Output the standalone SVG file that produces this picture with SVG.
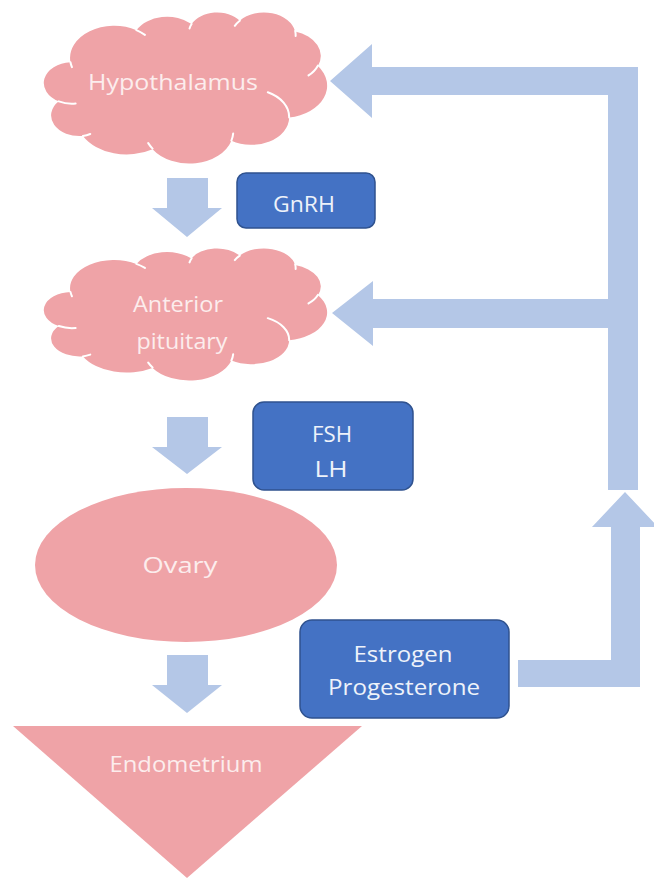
<svg xmlns="http://www.w3.org/2000/svg" width="654" height="879" viewBox="0 0 654 879">
<style>
.pink{fill:#EFA3A7;}
.inner{fill:none;stroke:#FFFFFF;stroke-width:2;stroke-linecap:round;}
.box{fill:#4472C4;stroke:#2F528F;stroke-width:1.5;}
.arrow{fill:#B4C7E7;}
.t{font-family:"Open Sans","Liberation Sans",sans-serif;font-size:22px;text-anchor:middle;}
.tp{fill:#FCEDED;}
.tb{fill:#EEF2FA;}
</style>
<defs>
<path id="cloudShape" d="M 39.00 143.70 A 67.53 91.90 0 0 1 140.05 52.02 A 53.33 72.67 0 0 1 224.56 34.32 A 43.65 59.45 0 0 1 298.32 24.79 A 48.57 65.95 0 0 1 383.17 55.75 A 53.33 72.73 0 0 1 418.17 154.59 A 67.75 92.20 0 0 1 374.03 302.02 A 57.85 78.67 0 0 1 285.55 368.12 A 67.52 92.15 0 0 1 164.80 392.64 A 77.20 105.43 0 0 1 58.03 354.69 A 43.60 59.18 0 0 1 21.12 255.47 A 43.45 59.45 0 0 1 39.00 143.70 Z"/>
</defs>

<g id="connectors">
<polygon class="arrow" points="167,178 208,178 208,208 222,208 187,237 152,208 167,208"/>
<polygon class="arrow" points="167,417 208,417 208,447 222,447 187,474 152,447 167,447"/>
<polygon class="arrow" points="167,655 208,655 208,685 222,685 187,713 152,685 167,685"/>
<polygon class="arrow" points="330,81 372,44 372,67 638,67 638,490 608,490 608,95 372,95 372,118"/>
<polygon class="arrow" points="332,313 373,281 373,299 608,299 608,328 373,328 373,346"/>
<polygon class="arrow" points="518,660 611,660 611,527 592,527 625,492 658,527 640,527 640,687 518,687"/>
</g>

<g id="hypothalamus">
<use href="#cloudShape" class="pink" transform="translate(45,12) scale(0.6528,0.3495)"/>
<path class="inner" d="M 75.64 103.49 A 28.36 20.78 0 0 1 58.79 101.31 M 90.23 133.97 A 28.46 20.68 0 0 1 82.88 135.98 M 152.57 148.62 A 44.08 32.21 0 0 1 148.22 143.15 M 233.18 133.46 A 44.08 32.21 0 0 1 231.40 140.66 M 267.79 92.22 A 37.76 27.50 0 0 1 289.16 117.56 M 317.86 65.66 A 34.81 25.42 0 0 1 308.53 75.38 M 295.18 30.96 A 31.71 23.05 0 0 1 295.63 36.02 M 234.82 25.81 A 31.71 23.05 0 0 1 239.74 20.66 M 189.53 28.50 A 28.49 20.78 0 0 1 191.59 24.00 M 136.39 30.15 A 44.08 32.12 0 0 1 144.90 34.89 M 71.94 67.18 A 44.08 32.12 0 0 1 70.46 62.22"/>
<text class="t tp" x="173" y="90" textLength="170" lengthAdjust="spacingAndGlyphs">Hypothalamus</text>
</g>

<g id="anterior-pituitary">
<use href="#cloudShape" class="pink" transform="translate(45,248) scale(0.6528,0.3056)"/>
<path class="inner" d="M 75.64 328.00 A 28.36 18.17 0 0 1 58.79 326.07 M 90.23 354.65 A 28.46 18.09 0 0 1 82.88 356.39 M 152.57 367.46 A 44.08 28.16 0 0 1 148.22 362.65 M 233.18 354.20 A 44.08 28.16 0 0 1 231.40 360.50 M 267.79 318.15 A 37.76 24.04 0 0 1 289.16 340.30 M 317.86 294.92 A 34.81 22.23 0 0 1 308.53 303.42 M 295.18 264.58 A 31.71 20.15 0 0 1 295.63 269.00 M 234.82 260.08 A 31.71 20.15 0 0 1 239.74 255.58 M 189.53 262.42 A 28.49 18.17 0 0 1 191.59 258.49 M 136.39 263.87 A 44.08 28.08 0 0 1 144.90 267.97 M 71.94 296.25 A 44.08 28.08 0 0 1 70.46 291.91"/>
<text class="t tp" x="178" y="312" textLength="90" lengthAdjust="spacingAndGlyphs">Anterior</text>
<text class="t tp" x="182" y="349" textLength="91" lengthAdjust="spacingAndGlyphs">pituitary</text>
</g>

<g id="gnrh">
<rect class="box" x="237" y="173" width="138" height="55" rx="9"/>
<text class="t tb" x="304" y="212" textLength="62" lengthAdjust="spacingAndGlyphs">GnRH</text>
</g>

<g id="fsh-lh">
<rect class="box" x="253" y="402" width="160" height="88" rx="11"/>
<text class="t tb" x="332" y="442" textLength="40" lengthAdjust="spacingAndGlyphs">FSH</text>
<text class="t tb" x="331" y="477" textLength="33" lengthAdjust="spacingAndGlyphs">LH</text>
</g>

<g id="ovary">
<ellipse class="pink" cx="186" cy="565" rx="151" ry="77"/>
<text class="t tp" x="180" y="573" textLength="75" lengthAdjust="spacingAndGlyphs">Ovary</text>
</g>

<g id="estrogen-progesterone">
<rect class="box" x="300" y="620" width="209" height="98" rx="12"/>
<text class="t tb" x="403" y="662" textLength="99" lengthAdjust="spacingAndGlyphs">Estrogen</text>
<text class="t tb" x="404" y="695" textLength="152" lengthAdjust="spacingAndGlyphs">Progesterone</text>
</g>

<g id="endometrium">
<polygon class="pink" points="13,726 362,726 187,878"/>
<text class="t tp" x="186" y="772" textLength="153" lengthAdjust="spacingAndGlyphs">Endometrium</text>
</g>
</svg>
